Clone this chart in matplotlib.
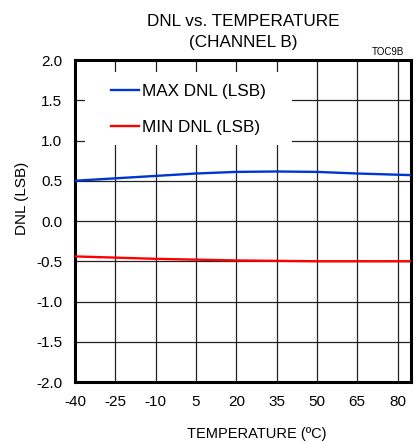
import numpy as np
import matplotlib
matplotlib.use('Agg')
import matplotlib.pyplot as plt
from matplotlib.patches import Rectangle

plt.rcParams['font.family'] = ['Liberation Sans', 'DejaVu Sans']

# temperature points (deg C)
temps = [-40, -25, -10, 5, 20, 35, 50, 65, 80, 85]
max_dnl = [0.50, 0.53, 0.56, 0.59, 0.61, 0.615, 0.61, 0.59, 0.575, 0.57]
min_dnl = [-0.44, -0.455, -0.47, -0.48, -0.49, -0.495, -0.50, -0.50, -0.50, -0.50]
xticks = [-40, -25, -10, 5, 20, 35, 50, 65, 80]
yticks = [-2.0, -1.5, -1.0, -0.5, 0.0, 0.5, 1.0, 1.5, 2.0]

fig = plt.figure(figsize=(4.16, 4.42), dpi=100)
ax = fig.add_axes([75 / 416, 1 - 382 / 442, 336 / 416, 322 / 442])
ax.set_axisbelow(True)

ax.plot(temps, max_dnl, color='#0035d0', lw=1.7, label='MAX DNL (LSB)', zorder=3)
ax.plot(temps, min_dnl, color='#ff0000', lw=1.7, label='MIN DNL (LSB)', zorder=3)

ax.set_xlim(-40, 85)
ax.set_ylim(-2.0, 2.0)
ax.set_xticks(xticks)
ax.set_yticks(yticks)
ax.set_xticklabels([str(t) for t in xticks])
ax.set_yticklabels([f'{v:.1f}' for v in yticks])
ax.tick_params(length=0, labelsize=11, pad=9)
ax.grid(True, color='#222222', lw=0.9)
for s in ax.spines.values():
    s.set_linewidth(2.2)

# white patch behind the legend hides the grid there
ax.add_patch(Rectangle((0.030, 0.736), 0.616, 0.227, transform=ax.transAxes,
                       facecolor='white', edgecolor='none', zorder=1))
leg = ax.legend(loc='upper left', bbox_to_anchor=(0.107, 0.927), frameon=False,
                handlelength=1.64, handletextpad=0.18, labelspacing=1.28, fontsize=12.3,
                borderpad=0, borderaxespad=0)

fig.text(257 / 416, 1 - 434 / 442, 'TEMPERATURE (ºC)', ha='center', va='center', fontsize=10.5)
fig.text(22 / 416, 1 - 198 / 442, 'DNL (LSB)', rotation=90, ha='center', va='center', fontsize=11)
fig.text(243 / 416, 1 - 22 / 442, 'DNL vs. TEMPERATURE', ha='center', va='center', fontsize=12.3)
fig.text(243 / 416, 1 - 42 / 442, '(CHANNEL B)', ha='center', va='center', fontsize=12.3)
fig.text(404 / 416, 1 - 52 / 442, 'TOC9B', ha='right', va='center', fontsize=7)

fig.savefig('out.png', dpi=100)
